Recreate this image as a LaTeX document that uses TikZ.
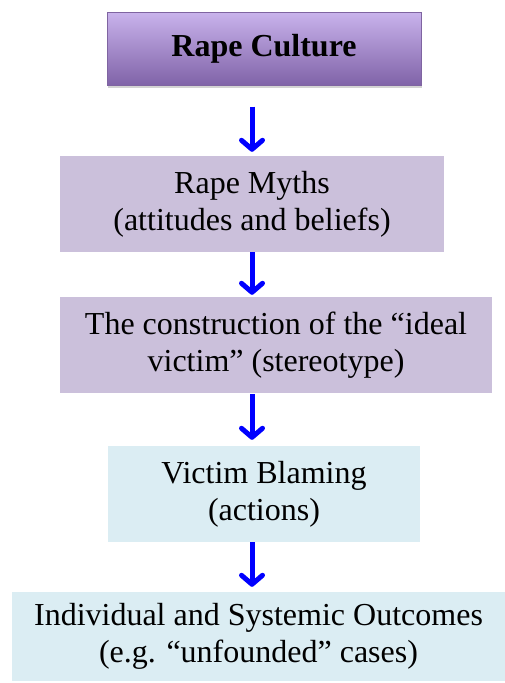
\documentclass[tikz,border=0pt]{standalone}
\usepackage{fontspec}
\setmainfont{Liberation Serif}
\usetikzlibrary{arrows.meta,shadows}

\definecolor{cultTop}{HTML}{C9B3EC}
\definecolor{cultBot}{HTML}{8063A8}
\definecolor{cultLine}{HTML}{7F64A1}
\definecolor{mauve}{HTML}{CBC0DB}
\definecolor{paleblue}{HTML}{DBEDF3}
\definecolor{arrowblue}{HTML}{0000FF}

\begin{document}
\begin{tikzpicture}[x=1pt, y=-1pt,
   culture/.style={rectangle, draw=cultLine, line width=1pt, top color=cultTop, bottom color=cultBot,
      minimum width=314pt, minimum height=73pt, font=\fontsize{32}{37}\selectfont\bfseries,
      drop shadow={opacity=0.35, shadow xshift=1pt, shadow yshift=-3pt}},
   level/.style={rectangle, align=center, font=\fontsize{32}{37}\selectfont, inner sep=0pt},
   myth/.style={level, fill=mauve},
   act/.style={level, fill=paleblue},
   flow/.style={draw=arrowblue, line width=5pt, -{Straight Barb[length=9pt, width=21pt, round]}}]
   \useasboundingbox (0,0) rectangle (505,683);
   \coordinate (ax) at (252,0);
   \node (rc) at (264,48.5) [culture] {Rape Culture};
   \node (rm) at (252,204) [myth, minimum width=384pt, minimum height=96pt] {Rape Myths\\
(attitudes and beliefs)};
   \node (iv) at (276,345) [myth, minimum width=432pt, minimum height=96pt] {The construction of the ``ideal\\
victim'' (stereotype)};
   \node (vb) at (264,494) [act, minimum width=312pt, minimum height=96pt] {Victim Blaming\\
(actions)};
   \node (oc) at (258.5,636.5) [act, minimum width=493pt, minimum height=89pt] {Individual and Systemic Outcomes\\
(e.g. ``unfounded'' cases)};
   \draw[flow, shorten <=21pt, shorten >=4pt] (rc.south -| ax) -- (rm.north -| ax);
   \draw[flow, shorten >=2pt] (rm.south -| ax) -- (iv.north -| ax);
   \draw[flow, shorten <=1pt, shorten >=6pt] (iv.south -| ax) -- (vb.north -| ax);
   \draw[flow, shorten >=5pt] (vb.south -| ax) -- (oc.north -| ax);
\end{tikzpicture}
\end{document}
